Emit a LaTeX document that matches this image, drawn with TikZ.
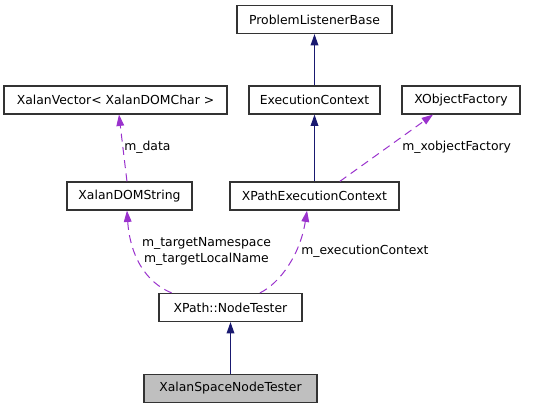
\documentclass[tikz,border=0pt]{standalone}
\usepackage{fontspec}
\setmainfont{DejaVu Sans}
\usetikzlibrary{arrows.meta}
\definecolor{inhblue}{HTML}{191970}
\definecolor{usepurple}{HTML}{9A32CD}
\definecolor{boxgray}{HTML}{BFBFBF}
\begin{document}
\begin{tikzpicture}[x=0.75pt,y=-0.75pt,
  cls/.style={draw=black!80, line width=0.9pt, minimum height=21pt, inner sep=0pt,
    font=\fontsize{9.3}{11}\selectfont},
  inh/.style={draw=inhblue, line width=0.75pt, -{Triangle[length=8.5pt,width=5.8pt]}},
  use/.style={draw=usepurple, line width=0.75pt, dash pattern=on 6pt off 4pt,
    -{Triangle[length=8.5pt,width=5.8pt]}},
  lbl/.style={font=\fontsize{9.3}{12}\selectfont, inner sep=0pt}]
\useasboundingbox (0,0) rectangle (536,408);
\node[cls, minimum width=116.25pt] (plb) at (314.5,19.5) {ProblemListenerBase};
\node[cls, minimum width=167.25pt] (xv) at (115.5,100) {XalanVector< XalanDOMChar >};
\node[cls, minimum width=98.25pt] (ec) at (314.5,100) {ExecutionContext};
\node[cls, minimum width=88.5pt] (xof) at (461,100) {XObjectFactory};
\node[cls, minimum width=93.75pt] (xds) at (129.5,196) {XalanDOMString};
\node[cls, minimum width=126.75pt] (xpec) at (314.5,196) {XPathExecutionContext};
\node[cls, minimum width=107.25pt] (nt) at (230.5,307.5) {XPath::NodeTester};
\node[cls, minimum width=129.75pt, fill=boxgray] (xsnt) at (230.5,388.5) {XalanSpaceNodeTester};

\draw[inh] (ec) -- (plb);
\draw[inh] (xpec) -- (ec);
\draw[inh] (xsnt) -- (nt);

\draw[use] ([xshift=-1.9pt]xds.north) -- ([xshift=2.6pt]xv.south);
\node[lbl, anchor=west] (l1) at (124,147) {m\_data};

\draw[use] ([xshift=19pt]xpec.north) -- ([xshift=-21pt]xof.south);
\node[lbl, anchor=west] (l2) at (402,147) {m\_xobjectFactory};

\draw[use] ([xshift=-44.2pt]nt.north) .. controls (145,282) and (130,255) .. ([xshift=-1.9pt]xds.south);
\node[lbl, align=center] (l3) at (206.5,251) {m\_targetNamespace\\m\_targetLocalName};

\draw[use] ([xshift=22.1pt]nt.north) .. controls (280,283) and (300,255) .. ([xshift=-5.6pt]xpec.south);
\node[lbl, anchor=west] (l4) at (301,251) {m\_executionContext};
\end{tikzpicture}
\end{document}
